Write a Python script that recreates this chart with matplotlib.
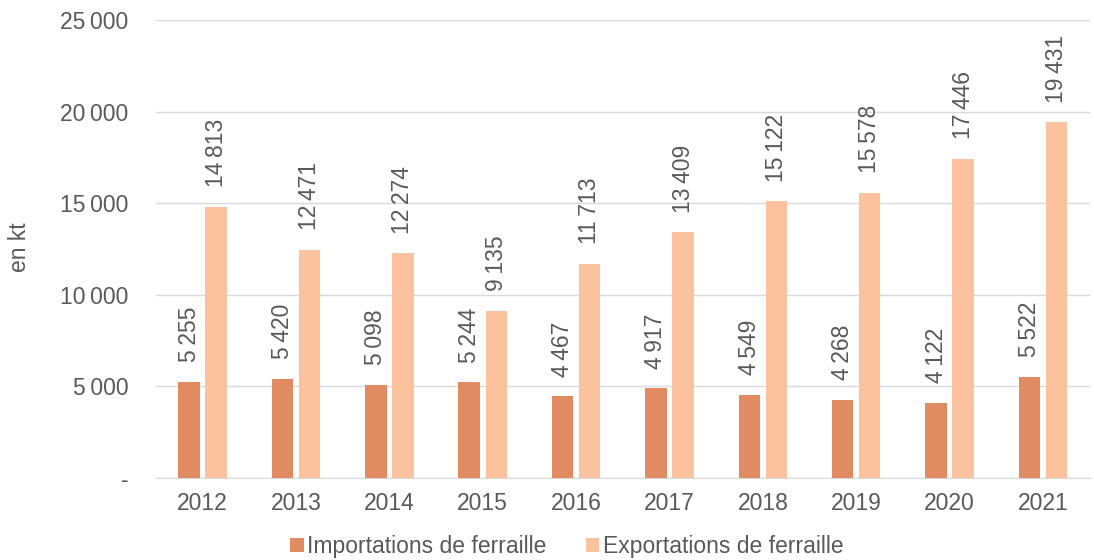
import numpy as np
import matplotlib.pyplot as plt
from matplotlib.ticker import FuncFormatter

# Echanges de ferraille, en kt
years = ['2012', '2013', '2014', '2015', '2016', '2017', '2018', '2019', '2020', '2021']
imports = [5255, 5420, 5098, 5244, 4467, 4917, 4549, 4268, 4122, 5522]
exports = [14813, 12471, 12274, 9135, 11713, 13409, 15122, 15578, 17446, 19431]

c_imp = '#E08B62'
c_exp = '#FCC19D'
grey = '#595959'
fs = 16.5

plt.rcParams['font.family'] = ['Liberation Sans', 'DejaVu Sans']


def fr(v):
    if v == 0:
        return '-'
    return f'{int(v):,}'.replace(',', '\u202f')


fig = plt.figure(figsize=(10.94, 5.6), dpi=100)
ax = fig.add_axes([0.1426, 0.1464, 0.8534, 0.8176])

x = np.arange(len(years))
w = 0.23
off = 0.145
b1 = ax.bar(x - off, imports, w, color=c_imp, label='Importations de ferraille', zorder=3)
b2 = ax.bar(x + off, exports, w, color=c_exp, label='Exportations de ferraille', zorder=3)

for bars, vals in ((b1, imports), (b2, exports)):
    for r, v in zip(bars, vals):
        ax.annotate(fr(v), (r.get_x() + r.get_width() / 2, v), xytext=(0, 14),
                    textcoords='offset points', rotation=90, ha='center', va='bottom',
                    color=grey, fontsize=fs)

ax.set_xlim(-0.5, len(years) - 0.5)
ax.set_ylim(0, 25000)
ax.set_yticks(np.arange(0, 25001, 5000))
ax.yaxis.set_major_formatter(FuncFormatter(lambda v, p: fr(v)))
ax.set_xticks(x)
ax.set_xticklabels(years)
ax.tick_params(axis='both', length=0, colors=grey, labelsize=fs)
ax.tick_params(axis='y', pad=20)
ax.tick_params(axis='x', pad=10)
ax.grid(axis='y', color='#D9D9D9', linewidth=1, zorder=0)
for s in ['top', 'right', 'left']:
    ax.spines[s].set_visible(False)
ax.spines['bottom'].set_color('#D9D9D9')
fig.text(20 / 1094, 0.559, 'en kt', rotation=90, ha='center', va='center',
         color=grey, fontsize=fs)

fig.legend(*ax.get_legend_handles_labels(), loc='center', bbox_to_anchor=(0.518, 0.024),
           ncol=2, frameon=False, handlelength=0.6, handleheight=0.6, handletextpad=0.15,
           columnspacing=1.7, fontsize=fs, labelcolor=grey)

fig.savefig('out.png', dpi=100)
